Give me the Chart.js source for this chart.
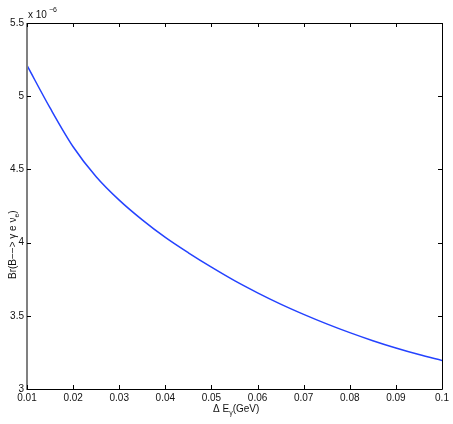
<!DOCTYPE html>
<html>
<head>
<meta charset="utf-8">
<script src="https://cdn.jsdelivr.net/npm/chart.js@4/dist/chart.umd.min.js"></script>
<style>
  html, body { margin: 0; padding: 0; background: #fff; }
  #wrap { width: 453px; height: 424px; }
</style>
</head>
<body>
<div id="wrap"><canvas id="chart" width="453" height="424"></canvas></div>
<script>
// photon energy cut (GeV) and branching ratio (units of 1e-6)
const deltaE = [0.01, 0.015, 0.02, 0.025, 0.03, 0.035, 0.04, 0.045, 0.05, 0.055,
                0.06, 0.065, 0.07, 0.075, 0.08, 0.085, 0.09, 0.095, 0.1];
const brValues = [5.21, 4.92, 4.655, 4.45, 4.29, 4.155, 4.035, 3.93, 3.832, 3.74,
                  3.657, 3.58, 3.51, 3.445, 3.385, 3.33, 3.28, 3.235, 3.195];
const xTicks = [0.01, 0.02, 0.03, 0.04, 0.05, 0.06, 0.07, 0.08, 0.09, 0.1];
const yTicks = [3, 3.5, 4, 4.5, 5, 5.5];

const FONT = '"Liberation Sans", Arial, sans-serif';

// matlab-ish frame, inward ticks and the texts with sub/superscripts
const frame = {
  id: 'frame',
  afterDraw(chart) {
    const ctx = chart.ctx;
    const a = chart.chartArea;
    const xs = chart.scales.x, ys = chart.scales.y;
    ctx.save();
    ctx.strokeStyle = '#000';
    ctx.lineWidth = 1;
    ctx.beginPath();
    ctx.moveTo(a.left, a.top + 0.5); ctx.lineTo(a.right + 0.5, a.top + 0.5);
    ctx.lineTo(a.right + 0.5, a.bottom + 0.5); ctx.lineTo(a.left, a.bottom + 0.5);
    ctx.stroke();
    ctx.strokeStyle = '#808080';
    ctx.lineWidth = 2;
    ctx.beginPath();
    ctx.moveTo(a.left, a.top); ctx.lineTo(a.left, a.bottom + 1);
    ctx.stroke();

    ctx.strokeStyle = '#000';
    ctx.lineWidth = 1;
    ctx.beginPath();
    xTicks.forEach(v => {
      const px = Math.round(xs.getPixelForValue(v)) + 0.5;
      ctx.moveTo(px, a.bottom); ctx.lineTo(px, a.bottom - 4);
      ctx.moveTo(px, a.top); ctx.lineTo(px, a.top + 4);
    });
    yTicks.forEach(v => {
      const py = Math.round(ys.getPixelForValue(v)) + 0.5;
      ctx.moveTo(a.left, py); ctx.lineTo(a.left + 4, py);
      ctx.moveTo(a.right, py); ctx.lineTo(a.right - 4, py);
    });
    ctx.stroke();

    ctx.fillStyle = '#111';
    ctx.textBaseline = 'alphabetic';
    // exponent
    ctx.font = '10px ' + FONT;
    ctx.textAlign = 'left';
    ctx.fillText('x 10', a.left + 1, a.top - 5);
    ctx.font = '7px ' + FONT;
    ctx.fillText('\u22126', a.left + 22, a.top - 11);

    // x title
    ctx.font = '10px ' + FONT;
    const cx = 213;
    const by = a.bottom + 23;
    ctx.fillText('\u0394 E', cx, by);
    let w = ctx.measureText('\u0394 E').width;
    ctx.font = '7px ' + FONT;
    ctx.fillText('\u03b3', cx + w, by + 3);
    w += ctx.measureText('\u03b3').width;
    ctx.font = '10px ' + FONT;
    ctx.fillText('(GeV)', cx + w, by);

    // y title
    ctx.translate(16, 279);
    ctx.rotate(-Math.PI / 2);
    ctx.fillText('Br(B\u2212\u2212> \u03b3 e \u03bd', 0, 0);
    w = ctx.measureText('Br(B\u2212\u2212> \u03b3 e \u03bd').width;
    ctx.font = '7px ' + FONT;
    ctx.fillText('e', w, 3);
    w += ctx.measureText('e').width;
    ctx.font = '10px ' + FONT;
    ctx.fillText(')', w, 0);
    ctx.restore();
  }
};

new Chart(document.getElementById('chart'), {
  type: 'line',
  data: {
    datasets: [{
      data: deltaE.map((x, i) => ({ x: x, y: brValues[i] })),
      borderColor: '#2442ff',
      borderWidth: 1.5,
      pointRadius: 0,
      fill: false,
      cubicInterpolationMode: 'monotone'
    }]
  },
  options: {
    responsive: false,
    animation: false,
    layout: { padding: { top: 23, right: 11, left: 0, bottom: 0 } },
    plugins: { legend: { display: false }, tooltip: { enabled: false } },
    scales: {
      x: {
        type: 'linear', min: 0.01, max: 0.1,
        grid: { display: false, drawTicks: false }, border: { display: false },
        afterBuildTicks: s => { s.ticks = xTicks.map(v => ({ value: v })); },
        afterFit: s => { s.height = 35; },
        ticks: {
          color: '#111', font: { family: FONT, size: 10 }, padding: 3,
          maxRotation: 0, autoSkip: false,
          callback: v => String(v)
        }
      },
      y: {
        min: 3, max: 5.5,
        grid: { display: false, drawTicks: false }, border: { display: false },
        afterBuildTicks: s => { s.ticks = yTicks.map(v => ({ value: v })); },
        afterFit: s => { s.width = 27; },
        ticks: {
          color: '#111', font: { family: FONT, size: 10 }, padding: 3,
          autoSkip: false,
          callback: v => String(v)
        }
      }
    }
  },
  plugins: [frame]
});
</script>
</body>
</html>
